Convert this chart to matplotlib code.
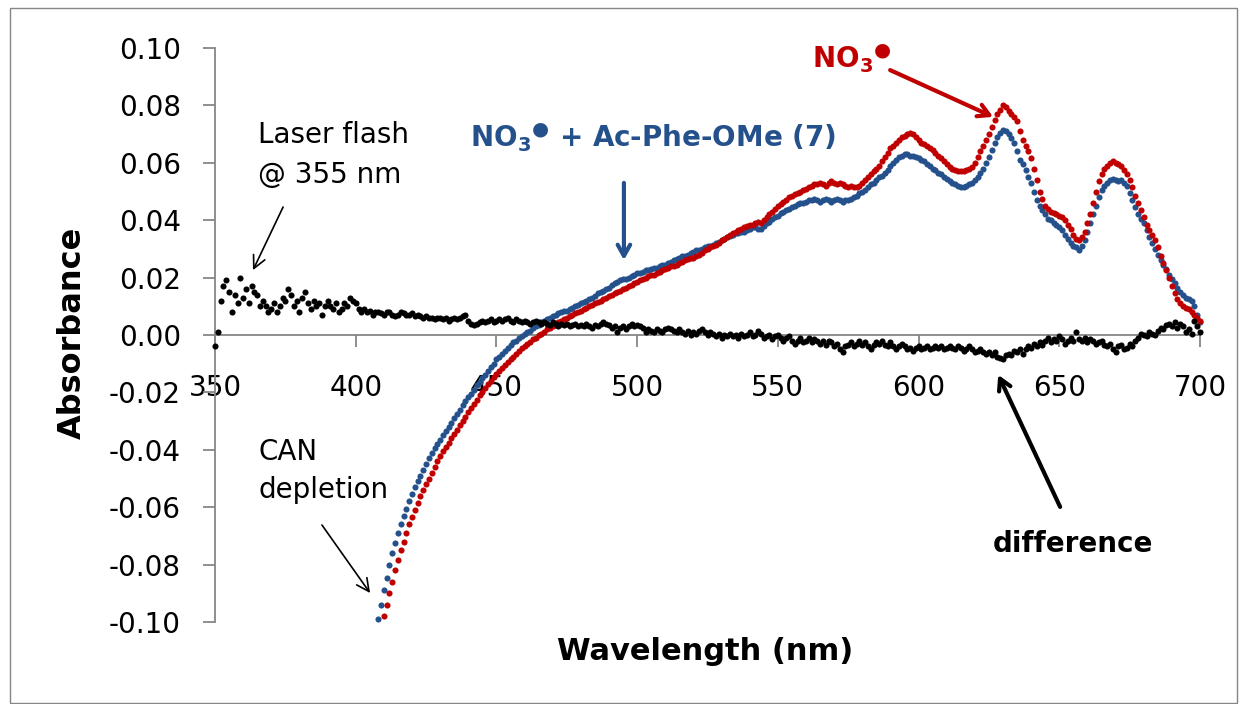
import numpy as np
import matplotlib
matplotlib.use("Agg")
import matplotlib.pyplot as plt
from matplotlib.patches import Rectangle

plt.rcParams['font.family'] = ['DejaVu Sans']
plt.rcParams['axes.unicode_minus'] = False
plt.rcParams['mathtext.fontset'] = 'dejavusans'

# absorbance values in milli-absorbance units, one reading per nm
# NO3* + Ac-Phe-OMe (7), 408..700 nm
blue_start = 408
blue_mA = [
    -99, -94,
    -89, -84.5, -80, -76, -72.5, -69, -66, -63, -60.5, -58,
    -55.5, -53, -51, -49, -47, -45, -43, -41, -39.5, -38,
    -36.5, -35, -33.5, -32, -30.5, -29, -27.5, -26, -24.5, -23,
    -21.5, -20.5, -19, -17.5, -16.5, -15, -14, -12.5, -11, -10,
    -8.5, -7.5, -6.5, -5.5, -4.5, -3.5, -2.5, -2, -1, -0.5,
    0.5, 1, 1.5, 2.5, 3, 3.5, 4.5, 5, 5.5, 6,
    6.5, 7, 7.5, 8, 8.5, 8.5, 9, 9.5, 10, 10.5,
    11, 11.5, 12, 12.5, 13, 13.5, 14.5, 15, 15.5, 16,
    16.5, 17.5, 18, 18.5, 19, 19.5, 19.5, 20, 20.5, 21,
    21.5, 21.5, 22, 22.5, 22.5, 23, 23.5, 23.5, 24, 24.5,
    24.5, 25, 25.5, 26, 26.5, 27, 27.5, 27.5, 28, 28.5,
    29, 29.5, 29.5, 30, 30.5, 31, 31, 31.5, 32, 32.5,
    33, 33.5, 34, 34.5, 35, 35.5, 35.5, 36, 36, 36.5,
    37, 37.5, 37.5, 37, 37, 38, 39, 39.5, 40.5, 41,
    41.5, 42.5, 43, 43.5, 44, 44.5, 45, 45.5, 46, 46,
    46.5, 47, 47, 47.5, 47, 46.5, 47, 47.5, 47, 46.5,
    47, 47.5, 47, 46.5, 47, 47, 47.5, 48, 48.5, 49.5,
    50, 50.5, 51.5, 52.5, 53, 54, 55, 55.5, 56.5, 57.5,
    59, 60, 61, 62, 62.5, 63, 63, 62.5, 62.5, 62,
    61.5, 61, 60.5, 59.5, 59, 58, 57.5, 56.5, 56, 55,
    54.5, 53.5, 53, 52.5, 52, 51.5, 51.5, 52, 52.5, 53,
    54, 55, 56.5, 58, 60, 62, 64.5, 67, 69, 70.5,
    71.5, 71, 70, 68.5, 67, 64, 61, 59.5, 57.5, 55,
    53, 50, 47, 45, 43.5, 42, 40.5, 40, 39, 38.5,
    37.5, 36.5, 35, 33.5, 32, 31, 30.5, 29.5, 31, 33,
    36, 39, 42, 45, 48, 50.5, 52, 53, 54, 54.5,
    54, 53.5, 54, 53, 52, 49.5, 47, 44.5, 42, 40.5,
    39, 36.5, 34, 32, 30, 28, 26, 24.5, 23, 21,
    19.5, 18, 16.5, 15, 14, 13, 12.5, 12, 10, 7,
    4.5,
]

# NO3*, 410..700 nm
red_start = 410
red_mA = [
    -98, -94, -90, -86, -82, -78.5, -75, -72, -69, -66,
    -63.5, -61, -58.5, -56, -54, -52, -50, -48, -46, -44,
    -42, -40.5, -39, -37.5, -36, -34.5, -33, -31.5, -30, -28.5,
    -27, -25.5, -24, -22.5, -21, -20, -18.5, -17, -16, -14.5,
    -13.5, -12.5, -11.5, -10.5, -9.5, -8.5, -7.5, -6.5, -5.5, -4.5,
    -4, -3, -2.5, -1.5, -1, 0, 0.5, 1, 2, 2.5,
    3, 3.5, 4.5, 5, 5.5, 6, 6.5, 7, 7.5, 8,
    8.5, 9, 9.5, 10, 10.5, 11, 11.5, 12, 12.5, 13,
    13.5, 14, 14.5, 15, 15.5, 16, 16.5, 17, 17.5, 18,
    18.5, 19, 19.5, 20, 20.5, 21, 21, 21.5, 22, 22.5,
    23, 23.5, 24, 24, 24.5, 25, 25.5, 26, 26.5, 27,
    27, 27.5, 28, 28.5, 29.5, 30, 30.5, 31, 31.5, 32,
    33, 33.5, 34, 35, 35.5, 36, 36.5, 37, 37.5, 38,
    38.5, 38.5, 39, 39.5, 39, 40, 41, 42, 43, 44,
    45, 45.5, 46.5, 47, 48, 48.5, 49, 49.5, 50, 50.5,
    51, 51.5, 52, 52.5, 52.5, 53, 52.5, 52, 53, 53.5,
    53, 52.5, 53, 52.5, 52, 51.5, 52, 51.5, 51.5, 52,
    53, 54, 55, 56, 57, 58, 59, 60.5, 62, 63.5,
    65, 66, 67, 68, 69, 69.5, 70, 70.5, 70, 69,
    68, 67, 66.5, 66, 65, 64.5, 63.5, 62.5, 61.5, 60.5,
    59.5, 58.5, 58, 57.5, 57, 57, 57, 57.5, 58, 58.5,
    60, 62, 64, 66, 68, 70, 72.5, 75, 77, 78.5,
    80, 79.5, 78, 77, 76, 74.5, 71, 68, 66, 64,
    61.5, 58, 54, 50, 47.5, 45, 44, 43, 42.5, 42,
    41.5, 41, 40, 38.5, 37, 35, 33.5, 33, 34, 36,
    39, 42, 46, 50, 53.5, 56, 58, 59, 60, 60.5,
    60, 59.5, 59, 57.5, 56, 54, 51.5, 48.5, 46, 43.5,
    41, 38.5, 36.5, 35, 33, 30.5, 27.5, 25, 22.5, 20,
    17, 14.5, 12.5, 11, 10, 9.5, 9, 8, 7, 6,
    5,
]

# difference, 350..700 nm
diff_start = 350
diff_mA = [
    -4, 1, 12, 17, 19, 15, 8, 14, 11, 20,
    13, 16, 11, 17, 15, 14, 10, 12, 10, 8,
    9, 11, 8, 10, 13, 12, 16, 14, 10, 12,
    8, 13, 15, 11, 9, 12, 10, 11, 7, 10,
    12, 10, 9, 11, 8, 9, 11, 10, 13, 12,
    11, 9, 8, 9, 8, 8.5, 7, 8, 8, 7.5,
    7, 8, 8, 7, 6.5, 7, 8, 7.5, 7, 7,
    7.5, 6.5, 7, 6.5, 6, 6.5, 6, 6, 5.5, 6,
    6, 5.5, 6, 5, 5.5, 6, 5.5, 6, 6.5, 7,
    5, 4, 3.5, 4, 4.5, 5, 4.5, 5, 5.5, 4.5,
    5, 5.5, 5, 5.5, 6, 5, 4.5, 5.5, 5, 4.5,
    5, 4.5, 4, 4.5, 5, 4.5, 4, 4.5, 4, 3.5,
    4.5, 4, 3, 4, 3.5, 4, 3, 3.5, 4, 3,
    3.5, 3, 4, 3, 2.5, 3.5, 3, 4, 4.5, 4,
    3.5, 2.5, 3, 1, 2.5, 3, 2, 3, 4, 3,
    3.5, 3, 2.5, 1, 2, 1.5, 1, 2, 1.5, 1,
    2, 2.5, 2, 1.5, 1, 2, 1, 0.5, 1.5, 0,
    1, 0.5, 1.5, 2, 1, 0, 1, 0.5, -0.5, 0.5,
    -1, 0, -0.5, 0.5, -0.5, 0, -1, 0.5, -0.5, 0,
    1, -0.5, 0, 1.5, 0.5, -1, -0.5, 0, -1.5, -0.5,
    0, -1, -2, -1, -0.5, -2, -3, -2, -1, -2.5,
    -2, -1, -2.5, -1.5, -2, -3, -2, -3.5, -2, -2.5,
    -4, -3, -5, -6, -4, -3.5, -2.5, -4, -3, -2,
    -3.5, -2.5, -4, -5, -3.5, -2.5, -3, -2, -3.5, -4,
    -2.5, -4, -5, -4, -3, -4, -5, -4.5, -5.5, -4.5,
    -4, -5, -4.5, -4, -5, -4.5, -4, -4.5, -4, -5,
    -4.5, -4, -4.5, -5, -4, -4.5, -5.5, -5, -4, -5,
    -6, -5.5, -5, -6, -6.5, -6, -7, -6, -7.5, -8,
    -8.5, -7, -6.5, -7, -5.5, -6, -5, -6.5, -5, -4,
    -4.5, -3, -4, -2.5, -3.5, -2, -1, -2.5, -1.5, -2,
    -0.5, -1.5, -3, -2, -1, -2, 1, -1.5, -2, -1,
    -2.5, -1.5, -2, -3, -2.5, -2, -3.5, -4, -3, -5,
    -6, -4, -3.5, -5, -4.5, -3, -4, -2, -1, 0.5,
    0, -0.5, 1, 0.5, 0, 1.5, 2.5, 2, 3.5, 4,
    3, 4.5, 2.5, 4, 3, 1, 2, 0.5, 5, 3,
    1,
]

x_ticks = [350, 400, 450, 500, 550, 600, 650, 700]
y_ticks = [-0.10, -0.08, -0.06, -0.04, -0.02, 0.00, 0.02, 0.04, 0.06, 0.08, 0.10]

BLUE = '#24508c'
RED = '#c00000'
GREY = '#868686'

W, H = 1247, 704
fig = plt.figure(figsize=(W / 100, H / 100), dpi=100)
ax = fig.add_axes([215 / W, 1 - 622 / H, (1200 - 215) / W, (622 - 48) / H])


def series(start, vals):
    nm = np.arange(start, start + len(vals))
    return nm, np.array(vals) / 1000.0


for start, vals, col in [(blue_start, blue_mA, BLUE), (red_start, red_mA, RED),
                         (diff_start, diff_mA, 'black')]:
    nm, a = series(start, vals)
    ax.plot(nm, a, 'o', ms=4.4, mew=0, color=col, clip_on=False, zorder=3)

ax.set_xlim(350, 700)
ax.set_ylim(-0.10, 0.10)
ax.set_xticks(x_ticks)
ax.set_yticks(y_ticks)
ax.set_yticklabels(['%.2f' % v for v in y_ticks])

for s in ['top', 'right']:
    ax.spines[s].set_visible(False)
ax.spines['bottom'].set_position(('data', 0))
for s in ['left', 'bottom']:
    ax.spines[s].set_color(GREY)
    ax.spines[s].set_linewidth(1.3)
ax.tick_params(axis='both', direction='out', length=8.5, width=1.3, color=GREY,
               labelsize=20, labelcolor='black')
ax.tick_params(axis='x', pad=19.5)
ax.tick_params(axis='y', pad=16)


def fx(px):
    return px / W


def fy(py):
    return 1 - py / H


fig.text(fx(705), fy(652), 'Wavelength (nm)', ha='center', va='center',
         fontsize=22, fontweight='bold')
fig.text(fx(72), fy(333), 'Absorbance', ha='center', va='center', rotation=90,
         fontsize=23, fontweight='bold')

# annotations
fig.text(fx(258), fy(143), 'Laser flash', fontsize=20, va='baseline')
fig.text(fx(258), fy(183), '@ 355 nm', fontsize=20, va='baseline')
fig.text(fx(258), fy(460), 'CAN', fontsize=20, va='baseline')
fig.text(fx(258), fy(498), 'depletion', fontsize=20, va='baseline')
fig.text(fx(993), fy(552), 'difference', fontsize=20, fontweight='bold', va='baseline')

radical = r'NO$_\mathbf{3}$$^{●}$'
fig.text(fx(470), fy(147), radical + ' + Ac-Phe-OMe (7)', fontsize=20,
         fontweight='bold', color=BLUE, va='baseline')
fig.text(fx(812), fy(68), radical, fontsize=20,
         fontweight='bold', color=RED, va='baseline')

thin = dict(arrowstyle='->,head_length=0.9,head_width=0.45', color='black', lw=1.2,
            shrinkA=0, shrinkB=0)
ax.annotate('', xy=(363.5, 0.0226), xytext=(374.2, 0.0446), arrowprops=thin,
            annotation_clip=False)
ax.annotate('', xy=(405.1, -0.0899), xytext=(388.0, -0.0662), arrowprops=thin,
            annotation_clip=False)


def thick(col):
    return dict(arrowstyle='->,head_length=0.8,head_width=0.45', color=col, lw=3,
                shrinkA=0, shrinkB=0)


ax.annotate('', xy=(495.3, 0.0261), xytext=(495.3, 0.053), arrowprops=thick(BLUE),
            annotation_clip=False)
ax.annotate('', xy=(626.5, 0.076), xytext=(589.9, 0.0923), arrowprops=thick(RED),
            annotation_clip=False)
ax.annotate('', xy=(628.3, -0.0139), xytext=(650.3, -0.0599), arrowprops=thick('black'),
            annotation_clip=False)

# chart area border
fig.patches.append(Rectangle((fx(9.5), fy(703)), fx(1237 - 9.5), (703 - 8) / H,
                             transform=fig.transFigure, fill=False, edgecolor=GREY,
                             lw=1.0))

fig.savefig('out.png', dpi=100)
